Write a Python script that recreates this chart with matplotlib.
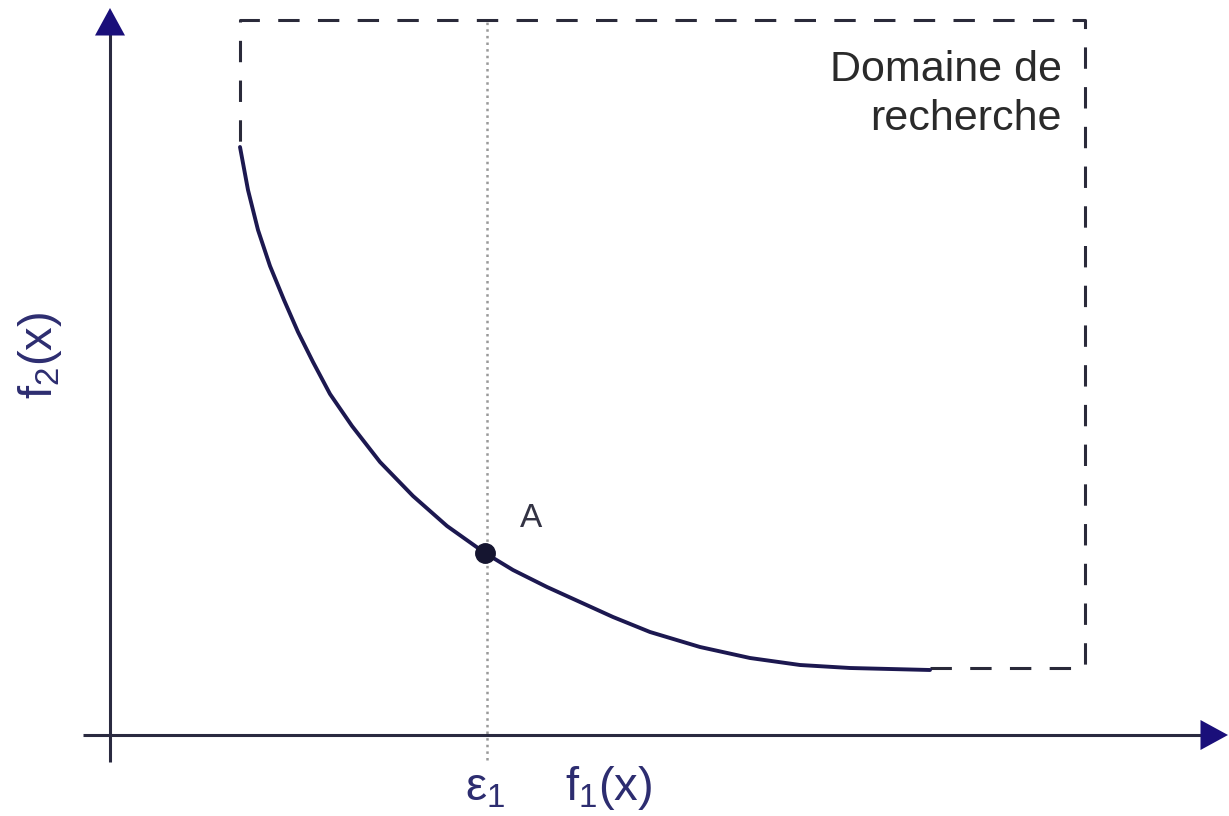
import matplotlib.pyplot as plt

# Pareto front f2 = g(f1) (arbitrary units, origin at the axes crossing)
f1_front = [1.30, 1.38, 1.48, 1.60, 1.74, 1.88, 2.03, 2.20, 2.42, 2.70, 3.03, 3.37,
            3.75, 4.03, 4.37, 4.70, 5.03, 5.40, 5.90, 6.40, 6.90, 7.40, 8.20]
f2_front = [5.88, 5.45, 5.05, 4.69, 4.35, 4.03, 3.73, 3.41, 3.09, 2.73, 2.39, 2.09,
            1.82, 1.65, 1.48, 1.33, 1.18, 1.03, 0.88, 0.77, 0.70, 0.67, 0.65]

# dashed outline of the search domain
domain_f1 = [8.20, 9.75, 9.75, 1.30, 1.30]
domain_f2 = [0.67, 0.67, 7.15, 7.15, 5.88]

# epsilon constraint and the point A on the front
eps1 = 3.77
point_a = (3.75, 1.82)

navy = '#1a0f7a'
curve_col = '#1c1850'
label_col = '#2d2d70'

plt.rcParams['font.family'] = ['Liberation Sans', 'DejaVu Sans']
plt.rcParams['mathtext.fontset'] = 'custom'
plt.rcParams['mathtext.rm'] = 'Liberation Sans'
plt.rcParams['mathtext.it'] = 'Liberation Sans'

fig = plt.figure(figsize=(12.29, 8.16), dpi=100)
ax = fig.add_axes([0, 0, 1, 1])
ax.set_xlim(-1.10, 11.19)
ax.set_ylim(-0.81, 7.35)
ax.axis('off')

# axes with arrow heads
ax.plot([-0.27, 11.0], [0, 0], color='#2a2a40', lw=2.2, solid_capstyle='butt')
ax.plot([0, 0], [-0.27, 7.05], color='#2a2a40', lw=2.2, solid_capstyle='butt')
head = dict(arrowstyle='-|>,head_length=1.1,head_width=0.6', mutation_scale=18,
            color=navy, lw=0, shrinkA=0, shrinkB=0)
ax.annotate('', xy=(11.18, 0), xytext=(10.75, 0), arrowprops=head)
ax.annotate('', xy=(0, 7.27), xytext=(0, 6.85), arrowprops=head)

# epsilon line
ax.plot([eps1, eps1], [-0.25, 7.15], color='#999999', lw=1.8, linestyle=':')

# search domain
ax.plot(domain_f1, domain_f2, color='#2a2a3a', lw=2.2, linestyle=(0, (7, 6)))

# front and point A
ax.plot(f1_front, f2_front, color=curve_col, lw=2.8, solid_capstyle='round',
        solid_joinstyle='round')
ax.plot([point_a[0]], [point_a[1]], 'o', color='#151530', markersize=14, zorder=5)

# labels
ax.text(4.10, 2.08, 'A', fontsize=24, color='#333344', ha='left', va='baseline')
ax.text(9.52, 6.05, 'Domaine de\nrecherche', fontsize=31, color='#2a2a2a',
        ha='right', va='baseline', multialignment='right', linespacing=1.3)
ax.text(3.55, -0.65, r'$\mathrm{\varepsilon_1}$', fontsize=34, color=label_col,
        ha='left', va='baseline')
ax.text(4.55, -0.65, r'$\mathrm{f_1(x)}$', fontsize=34, color=label_col,
        ha='left', va='baseline')
ax.text(-0.70, 3.80, r'$\mathrm{f_2(x)}$', fontsize=34, color=label_col,
        ha='center', va='center', rotation=90)

fig.savefig('out.png', dpi=100)
